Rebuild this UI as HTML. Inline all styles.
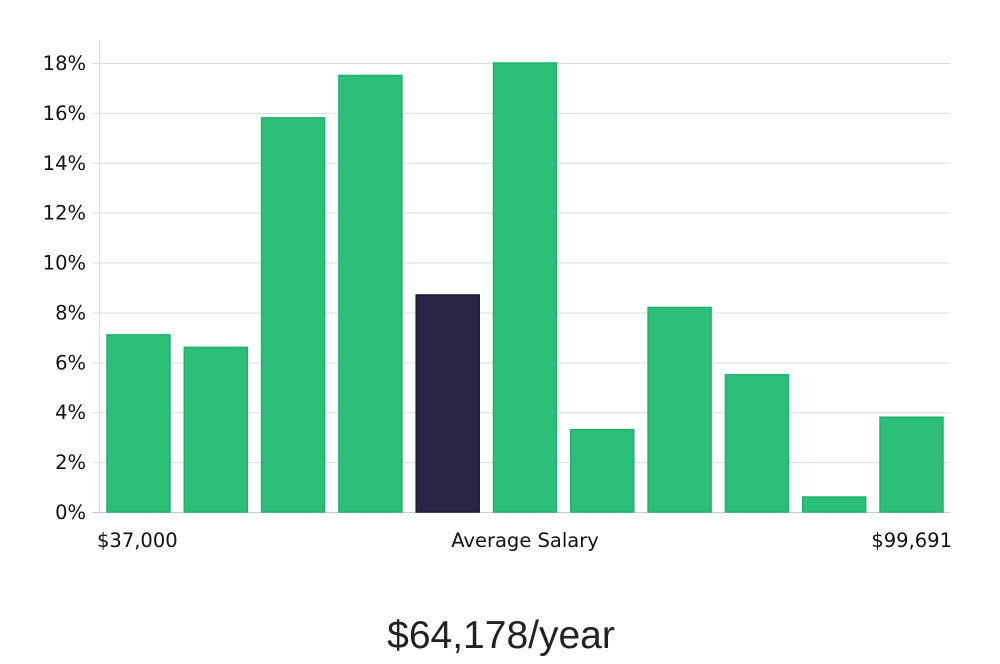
<!DOCTYPE html>
<html><head><meta charset="utf-8"><style>
body{margin:0;background:#fff;width:1000px;height:660px;overflow:hidden;font-family:"DejaVu Sans","Liberation Sans",sans-serif}
</style></head><body>
<svg width="1000" height="660">
<g id="grid"></g><g id="bars"></g><g id="yticks"></g>
<line x1="99.5" y1="40" x2="99.5" y2="512" stroke="#ddd"/>
<text x="97" y="547" font-size="19.5" fill="#111">$37,000</text>
<text x="525" y="547" font-size="19.5" fill="#111" text-anchor="middle">Average Salary</text>
<text x="952" y="547" font-size="19.5" fill="#111" text-anchor="end">$99,691</text>
<text x="501" y="648" font-size="39" fill="#222" text-anchor="middle" font-family="Liberation Sans, sans-serif">$64,178/year</text>
</svg>
<script>
const values=[7.1,6.6,15.8,17.5,8.7,18.0,3.3,8.2,5.5,0.6,3.8];
const highlight=[false,false,false,false,true,false,false,false,false,false,false];
const ticks=[0,2,4,6,8,10,12,14,16,18];
const NS="http://www.w3.org/2000/svg";
const y0=512,pxPer=449/18;
const y=v=>y0-v*pxPer;
const x=i=>107+i*77.3;
const bw=63;
const g=document.getElementById('grid'),b=document.getElementById('bars'),t=document.getElementById('yticks');
ticks.forEach(v=>{
 const l=document.createElementNS(NS,'line');
 
 
 l.setAttribute('x1',92);l.setAttribute('x2',950);l.setAttribute('y1',y(v)+0.5);l.setAttribute('y2',y(v)+0.5);
 l.setAttribute('stroke',v===0?'#ccc':'#ddd');g.appendChild(l);
 const tx=document.createElementNS(NS,'text');
 
 
 tx.setAttribute('x',86);tx.setAttribute('y',y(v)+7);tx.setAttribute('text-anchor','end');
 tx.setAttribute('font-size','19.5');tx.setAttribute('fill','#111');tx.textContent=v+'%';t.appendChild(tx);
});
values.forEach((v,i)=>{
 const r=document.createElementNS(NS,'rect');
 
 
 r.setAttribute('x',x(i));r.setAttribute('y',y(v));r.setAttribute('width',bw);r.setAttribute('height',y0-y(v));
 r.setAttribute('fill',highlight[i]?'#292546':'#2bbf79');
 r.setAttribute('stroke',highlight[i]?'#1c1934':'#22b06c');r.setAttribute('stroke-width','1.5');
 b.appendChild(r);
});
</script>
</body></html>
